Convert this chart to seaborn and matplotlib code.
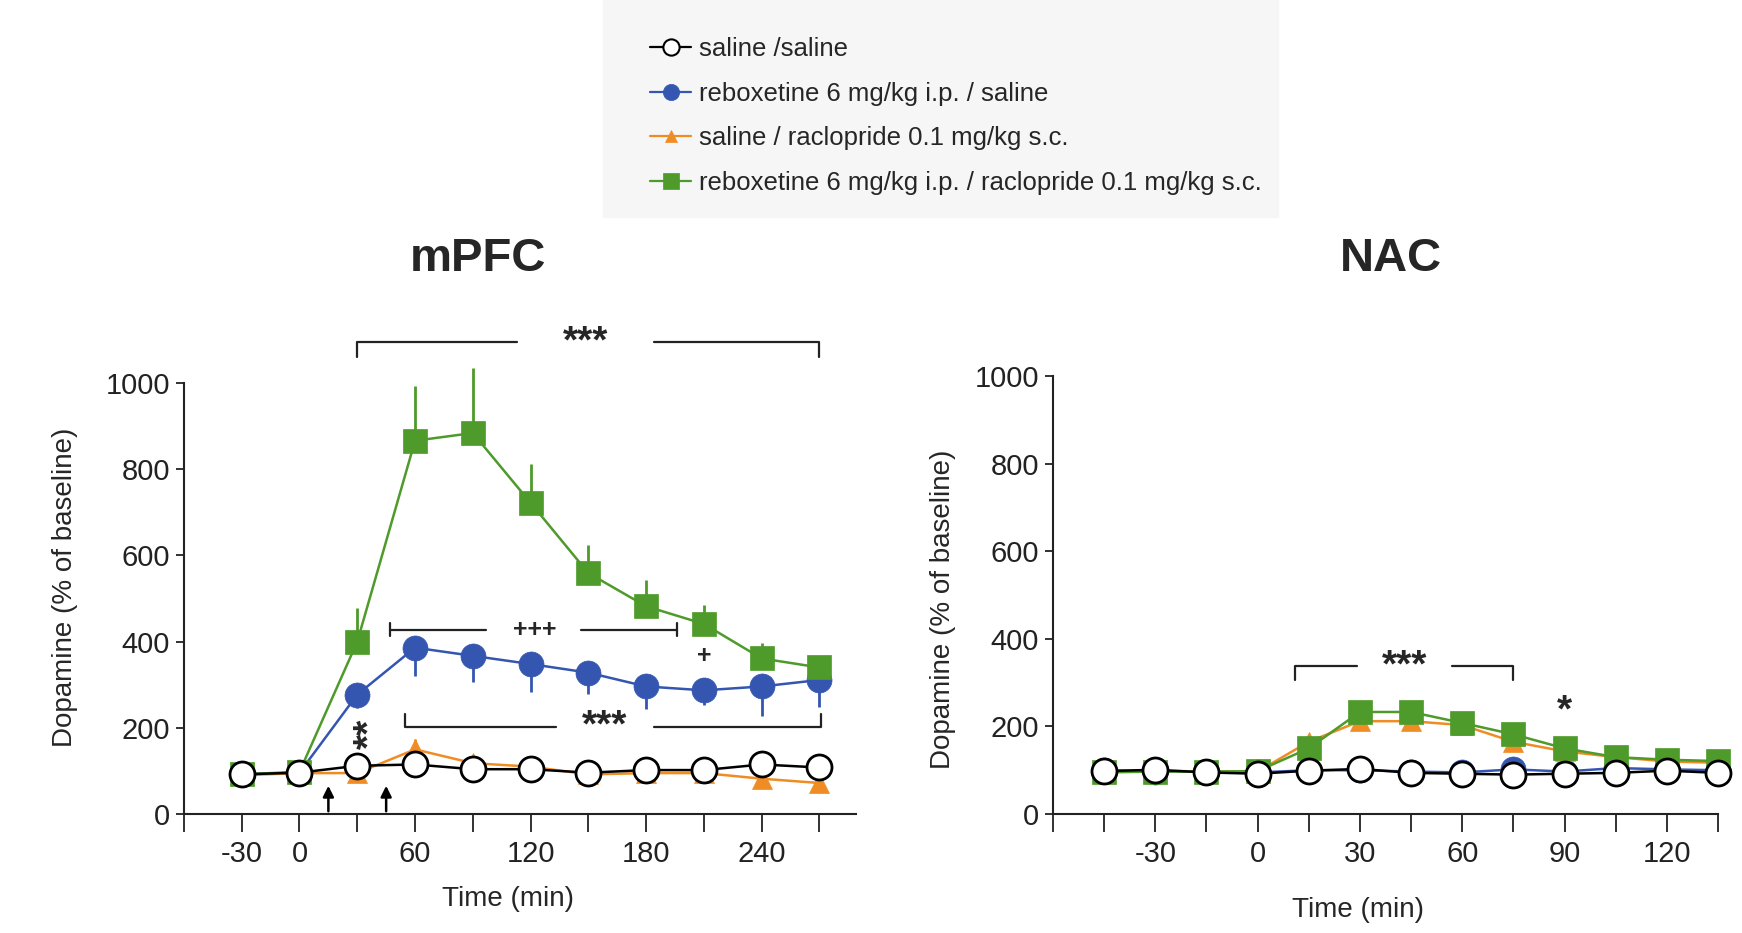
import numpy as np
import pandas as pd
import matplotlib
matplotlib.use('Agg')
import matplotlib.pyplot as plt
import seaborn as sns
from matplotlib.lines import Line2D
from matplotlib.patches import Rectangle

# ---- data ----
groups = ['saline /saline',
          'reboxetine 6 mg/kg i.p. / saline',
          'saline / raclopride 0.1 mg/kg s.c.',
          'reboxetine 6 mg/kg i.p. / raclopride 0.1 mg/kg s.c.']

mpfc_time = [-30, 0, 30, 60, 90, 120, 150, 180, 210, 240, 270]
mpfc_sal_sal = [92, 96, 112, 115, 104, 104, 96, 102, 102, 115, 108]
mpfc_rbx_sal = [92, 96, 277, 386, 367, 348, 328, 296, 287, 296, 311]
mpfc_sal_rac = [90, 95, 95, 150, 118, 110, 92, 95, 95, 82, 72]
mpfc_rbx_rac = [92, 98, 400, 866, 884, 722, 559, 482, 441, 361, 340]
mpfc_sal_sal_err = [5, 5, 8, 8, 6, 6, 6, 6, 6, 8, 8]
mpfc_rbx_sal_err = [5, 5, 30, 66, 60, 65, 50, 52, 35, 68, 62]
mpfc_sal_rac_err = [5, 5, 10, 25, 12, 10, 8, 8, 8, 10, 10]
mpfc_rbx_rac_err = [5, 5, 77, 128, 150, 90, 65, 62, 45, 36, 10]

nac_time = [-45, -30, -15, 0, 15, 30, 45, 60, 75, 90, 105, 120, 135]
nac_sal_sal = [98, 101, 95, 92, 99, 103, 94, 92, 90, 92, 94, 99, 94]
nac_rbx_sal = [100, 97, 97, 95, 100, 100, 97, 95, 102, 97, 105, 102, 100]
nac_sal_rac = [97, 99, 97, 97, 165, 212, 212, 203, 165, 143, 130, 120, 117]
nac_rbx_rac = [95, 97, 97, 98, 150, 233, 233, 208, 182, 150, 130, 124, 121]
nac_sal_sal_err = [5] * 13
nac_rbx_sal_err = [5] * 13
nac_sal_rac_err = [4, 4, 4, 4, 10, 10, 10, 8, 8, 6, 6, 5, 5]
nac_rbx_rac_err = [4, 4, 4, 4, 10, 15, 15, 10, 10, 8, 6, 5, 5]

injection_times = [15, 45]

# significance brackets: (start, end, y, leg, gap_lo, gap_hi, label)
mpfc_brackets = [(30, 270, 1095, -35, 113, 184, '***'),
                 (55, 271, 202, 31, 133, 184, '***')]
nac_brackets = [(11, 75, 337, -32, 29, 57, '***')]

# ---- styles ----
colors = ['black', '#3456b0', '#f08c24', '#4e9a2a']
markers = ['o', 'o', '^', 's']
mfc = ['white', '#3456b0', '#f08c24', '#4e9a2a']
msize = [18, 18, 14, 17]
draw_order = [1, 3, 2, 0]
bold = ['Liberation Sans', 'DejaVu Sans']

sns.set_style('ticks')
plt.rcParams['font.family'] = ['Liberation Sans', 'DejaVu Sans']

fig = plt.figure(figsize=(17.42, 9.33), dpi=100)
fig.patches.append(Rectangle((603 / 1742, 1 - 217 / 933), 675 / 1742, 217 / 933,
                             transform=fig.transFigure, color='#f6f6f6', zorder=0))
ax1 = fig.add_axes([0.1056, 0.1275, 0.3858, 0.462])
ax2 = fig.add_axes([0.6045, 0.1275, 0.3817, 0.4695])


def draw_panel(ax, t, series, errs):
    df = pd.DataFrame({'time': np.tile(t, 4),
                       'value': np.concatenate(series),
                       'group': np.repeat(groups, len(t))})
    for k in draw_order:
        sub = df[df['group'] == groups[k]]
        e = np.array(errs[k])
        lo = e if k in (0, 1) else np.zeros_like(e)
        hi = e if k in (0, 2, 3) else np.zeros_like(e)
        eb = ax.errorbar(sub['time'], sub['value'], yerr=[lo, hi], fmt='none',
                         ecolor=colors[k], elinewidth=2.0,
                         capsize=0, zorder=2 + k * 0.1)
        for c in eb.lines[2]:
            c.set_clip_on(False)
        sns.lineplot(data=sub, x='time', y='value', ax=ax, color=colors[k],
                     marker=markers[k], markersize=msize[k], markerfacecolor=mfc[k],
                     markeredgecolor=colors[k], markeredgewidth=2.0 if k == 0 else 0.5,
                     linewidth=1.8, errorbar=None, zorder=3 + k * 0.1 if k else 4,
                     clip_on=False, legend=False)
    ax.set_ylim(0, 1000)
    ax.set_yticks(range(0, 1001, 200))
    ax.tick_params(axis='y', length=6, width=1.3, labelsize=21, pad=4, colors='#222222')
    ax.tick_params(axis='x', length=13, width=1.3, labelsize=21, pad=6, colors='#222222')
    for s in ['left', 'bottom']:
        ax.spines[s].set_linewidth(1.5)
        ax.spines[s].set_color('#222222')
    sns.despine(ax=ax)
    ax.set_ylabel('Dopamine (% of baseline)', fontsize=20)
    ax.set_xlabel('Time (min)', fontsize=20)


def draw_brackets(ax, brackets):
    for a, b, y, leg, g0, g1, lab in brackets:
        kw = dict(color='#222222', lw=1.6, clip_on=False)
        ax.plot([a, a, g0], [y + leg, y, y], **kw)
        ax.plot([g1, b, b], [y, y, y + leg], **kw)
        ax.text((g0 + g1) / 2, y, lab, ha='center', va='center', fontsize=28,
                fontweight='bold', family=bold)


draw_panel(ax1, mpfc_time, [mpfc_sal_sal, mpfc_rbx_sal, mpfc_sal_rac, mpfc_rbx_rac],
           [mpfc_sal_sal_err, mpfc_rbx_sal_err, mpfc_sal_rac_err, mpfc_rbx_rac_err])
ax1.set_xlim(-60, 289)
ax1.set_xticks(range(-60, 271, 30))
ax1.set_xticklabels(['' if v in (-60, 30, 90, 150, 210, 270) else str(v)
                     for v in range(-60, 271, 30)])
draw_brackets(ax1, mpfc_brackets)
# +++ bracket with end ticks
kw = dict(color='#222222', lw=1.6, clip_on=False)
ax1.plot([47, 97], [428, 428], **kw)
ax1.plot([146, 196], [428, 428], **kw)
ax1.plot([47, 47], [413, 443], **kw)
ax1.plot([196, 196], [413, 443], **kw)
ax1.text(122, 428, '+++', ha='center', va='center', fontsize=18, fontweight='bold', family=bold)
ax1.text(210, 366, '+', ha='center', va='center', fontsize=18, fontweight='bold', family=bold)
ax1.text(37, 186, '**', ha='center', va='center', fontsize=28, fontweight='bold',
         rotation=90, family=bold)
for t in injection_times:
    ax1.annotate('', xy=(t, 72), xytext=(t, 0),
                 arrowprops=dict(arrowstyle='-|>', color='black', lw=1.8, mutation_scale=16))
ax1.xaxis.set_label_coords(0.482, -0.167)
ax1.yaxis.set_label_coords(-0.158, 0.527)

draw_panel(ax2, nac_time, [nac_sal_sal, nac_rbx_sal, nac_sal_rac, nac_rbx_rac],
           [nac_sal_sal_err, nac_rbx_sal_err, nac_sal_rac_err, nac_rbx_rac_err])
ax2.set_xlim(-60, 135)
ax2.set_xticks(range(-60, 136, 15))
ax2.set_xticklabels([str(v) if v in (-30, 0, 30, 60, 90, 120) else ''
                     for v in range(-60, 136, 15)])
draw_brackets(ax2, nac_brackets)
ax2.text(90, 235, '*', ha='center', va='center', fontsize=28, fontweight='bold', family=bold)
ax2.xaxis.set_label_coords(0.459, -0.19)
ax2.yaxis.set_label_coords(-0.146, 0.468)

fig.text(478 / 1742, 1 - 259 / 933, 'mPFC', ha='center', va='center', fontsize=34,
         fontweight='bold', family=bold)
fig.text(1391 / 1742, 1 - 259 / 933, 'NAC', ha='center', va='center', fontsize=34,
         fontweight='bold', family=bold)

handles = [Line2D([0], [0], color=colors[k], marker=markers[k], markersize=msize[k] * 0.65,
                  markerfacecolor=mfc[k], markeredgecolor=colors[k],
                  markeredgewidth=1.5 if k == 0 else 0.5, linewidth=1.6) for k in range(4)]
fig.legend(handles, groups, loc='upper left', bbox_to_anchor=(0.36, 0.985),
           frameon=False, fontsize=18.5, handlelength=1.6, handletextpad=0.3,
           labelspacing=0.8, borderpad=0.4)

fig.savefig('out.png', dpi=100, facecolor='white')
